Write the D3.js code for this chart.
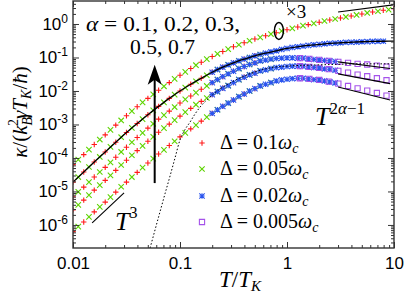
<!DOCTYPE html>
<html>
<head>
<meta charset="utf-8">
<script src="https://cdn.jsdelivr.net/npm/d3@7"></script>
<style>
body { margin: 0; background: #fff; }
text { font-family: "Liberation Serif", "DejaVu Serif", serif; fill: #000; }
.tick text { font-family: "Liberation Sans", Arial, sans-serif; }
</style>
</head>
<body>
<div id="graph"></div>
<script>
//axis ticks
var xTicks = [0.01, 0.1, 1, 10];
var xTickText = ["0.01", "0.1", "1", "10"];
var yTicks = [1e-6, 1e-5, 1e-4, 1e-3, 1e-2, 1e-1, 1];
var yTickExp = ["-6", "-5", "-4", "-3", "-2", "-1", "0"];

//T/T_K sampling of each data set
var tRed = [0.01, 0.0126, 0.0158, 0.02, 0.0251, 0.0316, 0.0398, 0.0501, 0.0631, 0.0794,
    0.1, 0.126, 0.158, 0.2, 0.251, 0.316, 0.398, 0.501, 0.631, 0.794,
    1, 1.26, 1.58, 2, 2.51, 3.16, 3.98, 5.01, 6.31, 7.94, 10];
var tGreen = [0.0112, 0.0141, 0.0178, 0.0224, 0.0282, 0.0355, 0.0447, 0.0562, 0.0708, 0.0891,
    0.112, 0.141, 0.178, 0.224, 0.282, 0.355, 0.447, 0.562, 0.708, 0.891,
    1.12, 1.41, 1.78, 2.24, 2.82, 3.55, 4.47, 5.62, 7.08, 8.91];
var tBlue = [0.2, 0.224, 0.251, 0.282, 0.316, 0.355, 0.398, 0.447, 0.501, 0.562, 0.631, 0.708,
    0.794, 0.891, 1, 1.12, 1.26, 1.41, 1.58, 1.78, 2, 2.24, 2.51, 2.82, 3.16, 3.55, 3.98,
    4.47, 5.01, 5.62, 6.31, 7.08, 7.94];
var tPurple = [1.32, 1.62, 2.0, 2.45, 3.02, 3.72, 4.57, 5.62, 6.92, 8.51];

//kappa, read off the log axis as decades (log10), one band per alpha
//alpha = 0.7 (x3)
var redA = [-4.20, -3.90, -3.60, -3.31, -3.02, -2.74, -2.47, -2.22, -1.98, -1.75, -1.53, -1.33, -1.14, -0.97, -0.82, -0.68,
    -0.56, -0.45, -0.35, -0.26, -0.17, -0.09, -0.02, 0.05, 0.12, 0.18, 0.24, 0.30, 0.36, 0.41, 0.46];
var greenA = [-4.05, -3.75, -3.45, -3.16, -2.88, -2.60, -2.34, -2.10, -1.86, -1.64, -1.43, -1.23, -1.05, -0.89, -0.75,
    -0.62, -0.50, -0.40, -0.30, -0.21, -0.13, -0.05, 0.02, 0.09, 0.15, 0.21, 0.27, 0.33, 0.38, 0.43];
//alpha = 0.5
var redB = [-4.72, -4.42, -4.12, -3.82, -3.53, -3.24, -2.97, -2.71, -2.46, -2.22, -2.00, -1.80, -1.62, -1.44, -1.29, -1.16, -1.05, -0.95];
var greenB = [-4.57, -4.27, -3.97, -3.67, -3.38, -3.10, -2.84, -2.58, -2.34, -2.11, -1.90, -1.71, -1.53, -1.36, -1.22, -1.10, -1.00, -0.91];
var blueB = [-1.44, -1.36, -1.29, -1.22, -1.16, -1.10, -1.05, -1.00, -0.95, -0.91, -0.87, -0.83, -0.80, -0.76, -0.73, -0.70,
    -0.68, -0.66, -0.64, -0.62, -0.61, -0.59, -0.58, -0.57, -0.56, -0.55, -0.545, -0.54, -0.53, -0.525, -0.52, -0.517, -0.515];
//alpha = 0.3
var redC = [-5.16, -4.87, -4.57, -4.28, -3.98, -3.68, -3.39, -3.11, -2.84, -2.60, -2.36, -2.15, -1.95, -1.75, -1.57, -1.41, -1.27, -1.16];
var greenC = [-5.01, -4.72, -4.42, -4.13, -3.82, -3.53, -3.25, -2.98, -2.72, -2.48, -2.25, -2.05, -1.85, -1.66, -1.49, -1.33, -1.21, -1.10, -1.05];
var blueC = [-1.75, -1.66, -1.57, -1.49, -1.41, -1.33, -1.27, -1.21, -1.16, -1.10, -1.08, -1.05, -1.03, -1.02, -1.01, -1.01,
    -1.02, -1.02, -1.04, -1.06, -1.07, -1.09, -1.10, -1.12];
var purpleC = [-1.02, -1.04, -1.07, -1.10, -1.13, -1.16, -1.19, -1.21, -1.24, -1.27];
//alpha = 0.2
var redD = [-5.55, -5.26, -4.96, -4.67, -4.37, -4.07, -3.78, -3.50, -3.23, -2.99, -2.75, -2.52, -2.31, -2.11, -1.92, -1.75, -1.59, -1.47];
var greenD = [-5.40, -5.11, -4.81, -4.52, -4.21, -3.92, -3.64, -3.37, -3.11, -2.87, -2.63, -2.41, -2.21, -2.02, -1.84, -1.66, -1.52, -1.40, -1.33];
var blueD = [-2.11, -2.02, -1.92, -1.84, -1.75, -1.66, -1.59, -1.52, -1.47, -1.40, -1.37, -1.33, -1.30, -1.29, -1.27, -1.26,
    -1.26, -1.26, -1.28, -1.30, -1.31, -1.34, -1.35, -1.38];
var purpleD = [-1.26, -1.28, -1.31, -1.35, -1.40, -1.45, -1.51, -1.56, -1.62, -1.68];
//alpha = 0.1
var redE = [-6.20, -5.91, -5.61, -5.32, -5.02, -4.72, -4.43, -4.15, -3.88, -3.63, -3.37, -3.13, -2.90, -2.67, -2.46, -2.27, -2.09, -1.93];
var greenE = [-6.05, -5.76, -5.46, -5.17, -4.86, -4.57, -4.29, -4.02, -3.76, -3.50, -3.25, -3.02, -2.78, -2.56, -2.36, -2.17, -2.00, -1.85, -1.75];
var blueE = [-2.67, -2.56, -2.46, -2.36, -2.27, -2.17, -2.09, -2.00, -1.93, -1.85, -1.80, -1.75, -1.70, -1.67, -1.65, -1.63,
    -1.62, -1.62, -1.64, -1.66, -1.67, -1.70, -1.73, -1.76];
var purpleE = [-1.62, -1.64, -1.67, -1.72, -1.78, -1.85, -1.92, -1.99, -2.06, -2.14];

//solid curve (alpha = 0.5) on tRed
var solidLine = [-4.72, -4.42, -4.12, -3.82, -3.53, -3.24, -2.97, -2.71, -2.46, -2.22, -2.00, -1.80, -1.62, -1.44, -1.29, -1.16,
    -1.05, -0.95, -0.87, -0.80, -0.73, -0.68, -0.64, -0.61, -0.58, -0.56, -0.545, -0.53, -0.52, -0.515, -0.51];
//dotted curve
var dotT = [0.0525, 0.0584, 0.065, 0.0724, 0.0807, 0.0898, 0.1, 0.111, 0.124, 0.138, 0.154, 0.191, 0.236, 0.293, 0.364, 0.502, 0.694, 1.07, 2.03, 4.81, 10];
var dotK = [-6.69, -6.15, -5.61, -5.07, -4.54, -4.00, -3.46, -3.16, -2.93, -2.69, -2.48, -2.18, -1.94, -1.76, -1.61, -1.43, -1.31, -1.25, -1.22, -1.19, -1.19];

//power-law guides: [T0, T1], [log kappa0, log kappa1]
var guideT3 = [[0.0151, 0.0300], [-5.94, -5.04]];
var guideHigh = [
    [[3.0, 9.8], [0.36, 0.57]],
    [[3.0, 9.2], [-1.13, -1.33]],
    [[3.0, 9.2], [-1.49, -1.78]],
    [[3.0, 9.2], [-1.88, -2.27]]
];

//arrow for increasing alpha
var arrowT = 0.058;
var arrowK = [-4.75, -1.22];

var legendText = ["0.1", "0.05", "0.02", "0.005"];
var colors = { red: "#ff1a1a", green: "#5ed400", blue: "#2b55ee", purple: "#a552ea" };

//measurements
var width = 408, height = 296;
var plot = { left: 73, right: 394, top: 1, bottom: 248 };
var x = d3.scaleLog().domain([0.01, 10]).range([plot.left, plot.right]);
var y = d3.scaleLog().domain([2.05e-7, 4.86]).range([plot.bottom, plot.top]);

var svg = d3.select("#graph").append("svg")
    .attr("width", width)
    .attr("height", height);

svg.append("clipPath").attr("id", "clip")
    .append("rect")
    .attr("x", plot.left).attr("y", plot.top)
    .attr("width", plot.right - plot.left).attr("height", plot.bottom - plot.top);

var area = svg.append("g").attr("clip-path", "url(#clip)");

function toPoints(ts, logs) {
    var out = [];
    for (var i = 0; i < logs.length && i < ts.length; i++) out.push([ts[i], Math.pow(10, logs[i])]);
    return out;
}

//marker shapes
var s = 2.7;
function plus(px, py) { return "M" + (px - s) + "," + py + "h" + 2 * s + "M" + px + "," + (py - s) + "v" + 2 * s; }
function cross(px, py) { return "M" + (px - s) + "," + (py - s) + "l" + 2 * s + "," + 2 * s + "M" + (px - s) + "," + (py + s) + "l" + 2 * s + "," + (-2 * s); }
function star(px, py) { return plus(px, py) + cross(px, py); }
function square(px, py) { var h = 2.6; return "M" + (px - h) + "," + (py - h) + "h" + 2 * h + "v" + 2 * h + "h" + (-2 * h) + "Z"; }

function drawSeries(ts, logs, shape, color) {
    area.append("g").selectAll("path")
        .data(toPoints(ts, logs))
        .enter().append("path")
        .attr("d", function (d) { return shape(x(d[0]), y(d[1])); })
        .attr("fill", "none")
        .attr("stroke", color)
        .attr("stroke-width", 1.1);
}

drawSeries(tRed, redA, plus, colors.red);
drawSeries(tRed, redB, plus, colors.red);
drawSeries(tRed, redC, plus, colors.red);
drawSeries(tRed, redD, plus, colors.red);
drawSeries(tRed, redE, plus, colors.red);
drawSeries(tGreen, greenA, cross, colors.green);
drawSeries(tGreen, greenB, cross, colors.green);
drawSeries(tGreen, greenC, cross, colors.green);
drawSeries(tGreen, greenD, cross, colors.green);
drawSeries(tGreen, greenE, cross, colors.green);
drawSeries(tBlue, blueB, star, colors.blue);
drawSeries(tBlue, blueC, star, colors.blue);
drawSeries(tBlue, blueD, star, colors.blue);
drawSeries(tBlue, blueE, star, colors.blue);
drawSeries(tPurple, purpleC, square, colors.purple);
drawSeries(tPurple, purpleD, square, colors.purple);
drawSeries(tPurple, purpleE, square, colors.purple);

//curves
var line = d3.line()
    .x(function (d) { return x(d[0]); })
    .y(function (d) { return y(d[1]); })
    .curve(d3.curveMonotoneX);

area.append("path")
    .datum(toPoints(tRed, solidLine))
    .attr("d", line)
    .attr("fill", "none")
    .attr("stroke", "#000")
    .attr("stroke-width", 1.3);

area.append("path")
    .datum(toPoints(dotT, dotK))
    .attr("d", line)
    .attr("fill", "none")
    .attr("stroke", "#000")
    .attr("stroke-width", 1)
    .attr("stroke-dasharray", "1.5,2");

//guides
[guideT3].concat(guideHigh).forEach(function (g) {
    area.append("path")
        .datum(toPoints(g[0], g[1]))
        .attr("d", d3.line().x(function (d) { return x(d[0]); }).y(function (d) { return y(d[1]); }))
        .attr("stroke", "#000")
        .attr("stroke-width", 1.1);
});

//arrow
var ax = x(arrowT), ay0 = y(Math.pow(10, arrowK[0])), ay1 = y(Math.pow(10, arrowK[1]));
svg.append("line")
    .attr("x1", ax).attr("x2", ax)
    .attr("y1", ay0).attr("y2", ay1 + 12)
    .attr("stroke", "#000").attr("stroke-width", 2);
svg.append("path")
    .attr("d", "M" + ax + "," + ay1 + "L" + (ax + 7) + "," + (ay1 + 20) + "L" + ax + "," + (ay1 + 15) + "L" + (ax - 7) + "," + (ay1 + 20) + "Z")
    .attr("fill", "#000");

//frame and ticks
function minorTicks(scale) {
    var dom = scale.domain(), out = [];
    for (var p = -8; p <= 1; p++) {
        for (var m = 2; m < 10; m++) {
            var v = m * Math.pow(10, p);
            if (v > dom[0] && v < dom[1]) out.push(v);
        }
    }
    return out;
}

function tickStyle(g) {
    g.select(".domain").remove();
    g.selectAll(".tick line").attr("stroke", "#333").attr("stroke-width", 1);
}

svg.append("g").attr("transform", "translate(0," + plot.bottom + ")")
    .call(d3.axisBottom(x).tickValues(xTicks).tickSize(-6).tickPadding(9)
        .tickFormat(function (d, i) { return xTickText[i]; }))
    .call(tickStyle)
    .selectAll("text").attr("font-size", 17).attr("fill", "#000")
    .style("font-family", "'Liberation Sans', Arial, sans-serif");
svg.append("g").attr("transform", "translate(0," + plot.bottom + ")")
    .call(d3.axisBottom(x).tickValues(minorTicks(x)).tickSize(-3).tickFormat(""))
    .call(tickStyle);
svg.append("g").attr("transform", "translate(0," + plot.top + ")")
    .call(d3.axisTop(x).tickValues(xTicks).tickSize(-6).tickFormat(""))
    .call(tickStyle);
svg.append("g").attr("transform", "translate(0," + plot.top + ")")
    .call(d3.axisTop(x).tickValues(minorTicks(x)).tickSize(-3).tickFormat(""))
    .call(tickStyle);
svg.append("g").attr("transform", "translate(" + plot.left + ",0)")
    .call(d3.axisLeft(y).tickValues(yTicks).tickSize(-6).tickFormat(""))
    .call(tickStyle);
svg.append("g").attr("transform", "translate(" + plot.left + ",0)")
    .call(d3.axisLeft(y).tickValues(minorTicks(y)).tickSize(-3).tickFormat(""))
    .call(tickStyle);
svg.append("g").attr("transform", "translate(" + plot.right + ",0)")
    .call(d3.axisRight(y).tickValues(yTicks).tickSize(-6).tickFormat(""))
    .call(tickStyle);
svg.append("g").attr("transform", "translate(" + plot.right + ",0)")
    .call(d3.axisRight(y).tickValues(minorTicks(y)).tickSize(-3).tickFormat(""))
    .call(tickStyle);

svg.append("rect")
    .attr("x", plot.left).attr("y", plot.top)
    .attr("width", plot.right - plot.left).attr("height", plot.bottom - plot.top)
    .attr("fill", "none").attr("stroke", "#333").attr("stroke-width", 1.4);

//y tick labels 10^n
yTicks.forEach(function (v, i) {
    var t = svg.append("text")
        .attr("x", 68).attr("y", y(v) + 6)
        .attr("text-anchor", "end")
        .style("font-family", "'Liberation Sans', Arial, sans-serif")
        .attr("font-size", 17);
    t.append("tspan").text("10");
    t.append("tspan").attr("dy", -7).attr("font-size", 12).text(yTickExp[i]);
});

//axis titles
svg.append("text")
    .attr("x", 240).attr("y", 287)
    .attr("text-anchor", "middle")
    .attr("font-size", 23)
    .call(function (t) {
        t.append("tspan").attr("font-style", "italic").text("T");
        t.append("tspan").text("/");
        t.append("tspan").attr("font-style", "italic").text("T");
        t.append("tspan").attr("font-style", "italic").attr("font-size", 15).attr("dy", 4).text("K");
    });

svg.append("text")
    .attr("transform", "translate(27,112) rotate(-90)")
    .attr("text-anchor", "middle")
    .attr("font-size", 21)
    .call(function (t) {
        t.append("tspan").attr("font-style", "italic").text("κ");
        t.append("tspan").text("/(");
        t.append("tspan").attr("font-style", "italic").text("k");
        t.append("tspan").attr("font-style", "italic").attr("font-size", 14).attr("dy", 5).text("B");
        t.append("tspan").attr("font-size", 14).attr("dx", -9).attr("dy", -14).text("2");
        t.append("tspan").attr("font-style", "italic").attr("dy", 9).text("γT");
        t.append("tspan").attr("font-style", "italic").attr("font-size", 14).attr("dy", 4).text("K");
        t.append("tspan").attr("dy", -4).text("/");
        t.append("tspan").attr("font-style", "italic").text("ħ");
        t.append("tspan").text(")");
    });

//annotations
svg.append("text").attr("x", 86).attr("y", 31).attr("font-size", 20)
    .attr("textLength", 154).attr("lengthAdjust", "spacingAndGlyphs")
    .call(function (t) {
        t.append("tspan").attr("font-style", "italic").text("α");
        t.append("tspan").text(" = 0.1, 0.2, 0.3,");
    });
svg.append("text").attr("x", 130).attr("y", 54).attr("font-size", 20)
    .attr("textLength", 65).attr("lengthAdjust", "spacingAndGlyphs")
    .text("0.5, 0.7");

svg.append("text").attr("x", 286).attr("y", 18).attr("font-size", 19).text("×3");
svg.append("ellipse")
    .attr("cx", x(0.84)).attr("cy", y(0.62))
    .attr("rx", 4.5).attr("ry", 8.5)
    .attr("fill", "none").attr("stroke", "#000").attr("stroke-width", 1.5);

svg.append("text").attr("x", 115).attr("y", 230).attr("font-size", 26)
    .call(function (t) {
        t.append("tspan").attr("font-style", "italic").text("T");
        t.append("tspan").attr("font-size", 16).attr("dy", -12).text("3");
    });
svg.append("text").attr("x", 315).attr("y", 125).attr("font-size", 26)
    .call(function (t) {
        t.append("tspan").attr("font-style", "italic").text("T");
        t.append("tspan").attr("font-size", 17).attr("dy", -11).text("2");
        t.append("tspan").attr("font-size", 17).attr("font-style", "italic").text("α");
        t.append("tspan").attr("font-size", 17).text("−1");
    });

//legend
var legendShapes = [plus, cross, star, square];
var legendColors = [colors.red, colors.green, colors.blue, colors.purple];
var legendY = [143, 169, 196, 222];
legendText.forEach(function (lbl, i) {
    svg.append("path")
        .attr("d", legendShapes[i](202, legendY[i]))
        .attr("fill", "none")
        .attr("stroke", legendColors[i])
        .attr("stroke-width", 1.1);
    svg.append("text").attr("x", 220).attr("y", legendY[i] + 6).attr("font-size", 20)
        .call(function (t) {
            t.append("tspan").text("Δ = " + lbl);
            t.append("tspan").attr("font-style", "italic").text("ω");
            t.append("tspan").attr("font-style", "italic").attr("font-size", 14).attr("dy", 4).text("c");
        });
});
</script>
</body>
</html>
